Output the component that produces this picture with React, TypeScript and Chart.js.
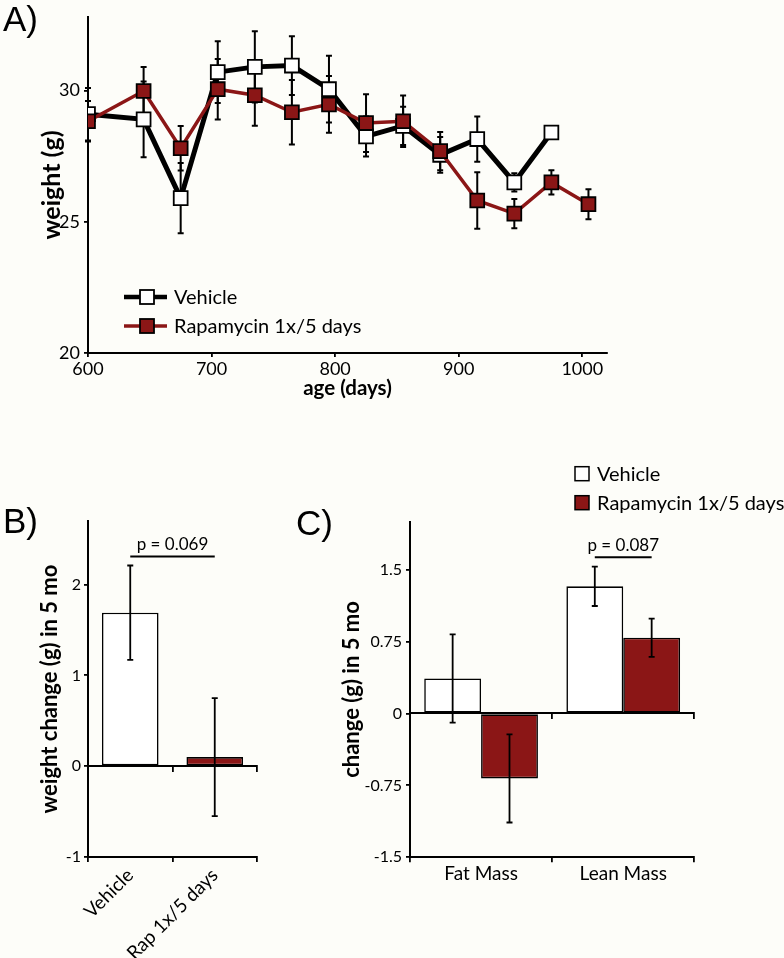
import React, { useEffect, useRef } from 'react';
import { Chart, registerables } from 'chart.js';

Chart.register(...registerables);

const FONT = 'Lato, "Open Sans", sans-serif';
const LETTER_FONT = '"Liberation Sans", Arial, sans-serif';
const RED = '#8B1616';
const BG = '#FDFDF9';

// ---------- Panel A: body weight over age ----------
const AGE_VEHICLE = [600, 645, 675, 705, 735, 765, 795, 825, 855, 885, 915, 945, 975];
const WEIGHT_VEHICLE = [29.1, 28.9, 25.9, 30.7, 30.9, 30.95, 30.05, 28.25, 28.65, 27.55, 28.15, 26.5, 28.4];
const ERR_VEHICLE = [1.0, 1.44, 1.34, 1.18, 1.36, 1.12, 1.27, 0.76, 0.73, 0.68, 0.86, 0.35, 0];
const AGE_RAPA = [600, 645, 675, 705, 735, 765, 795, 825, 855, 885, 915, 945, 975, 1005];
const WEIGHT_RAPA = [28.83, 29.98, 27.8, 30.05, 29.82, 29.17, 29.47, 28.76, 28.83, 27.69, 25.81, 25.31, 26.5, 25.67];
const ERR_RAPA = [0.77, 0.92, 0.85, 1.15, 1.16, 1.23, 1.08, 1.1, 0.98, 0.73, 1.08, 0.56, 0.46, 0.57];
const A_X_TICKS = [600, 700, 800, 900, 1000];
const A_Y_TICKS = [20, 25, 30];

// ---------- Panel B: weight change ----------
const B_GROUPS = ['Vehicle', 'Rap 1x/5 days'];
const B_CHANGE = [1.69, 0.1];
const B_ERR = [0.52, 0.65];
const B_Y_TICKS = [-1, 0, 1, 2];
const B_P_TEXT = 'p = 0.069';
const B_P_LEVEL = 2.31;

// ---------- Panel C: body composition change ----------
const C_CATEGORIES = ['Fat Mass', 'Lean Mass'];
const C_VEHICLE = [0.365, 1.326];
const C_VEHICLE_ERR = [0.46, 0.205];
const C_RAPA = [-0.677, 0.79];
const C_RAPA_ERR = [0.46, 0.2];
const C_Y_TICKS = [-1.5, -0.75, 0, 0.75, 1.5];
const C_P_TEXT = 'p = 0.087';
const C_P_LEVEL = 1.63;

const SERIES_NAMES = ['Vehicle', 'Rapamycin 1x/5 days'];

function errorBarsPlugin(layer: 'below' | 'above', cap: number, width: number) {
  const draw = (chart: any) => {
    const ctx = chart.ctx;
    ctx.save();
    ctx.strokeStyle = '#000';
    ctx.lineWidth = width;
    chart.data.datasets.forEach((ds: any, i: number) => {
      const errs = ds.errors;
      if (!errs) return;
      const meta = chart.getDatasetMeta(i);
      const yScale = chart.scales[meta.yAxisID];
      meta.data.forEach((el: any, j: number) => {
        const e = errs[j];
        if (!e) return;
        const raw = ds.data[j];
        const v = typeof raw === 'number' ? raw : raw.y;
        const x = el.x;
        const yt = yScale.getPixelForValue(v + e);
        const yb = yScale.getPixelForValue(v - e);
        ctx.beginPath();
        ctx.moveTo(x, yt);
        ctx.lineTo(x, yb);
        ctx.moveTo(x - cap, yt);
        ctx.lineTo(x + cap, yt);
        ctx.moveTo(x - cap, yb);
        ctx.lineTo(x + cap, yb);
        ctx.stroke();
      });
    });
    ctx.restore();
  };
  return {
    id: 'errorBars',
    beforeDatasetsDraw(chart: any) { if (layer === 'below') draw(chart); },
    afterDatasetsDraw(chart: any) { if (layer === 'above') draw(chart); },
  };
}

function panelLetterPlugin(letter: string, x: number, y: number) {
  return {
    id: 'panelLetter',
    afterDraw(chart: any) {
      const ctx = chart.ctx;
      ctx.save();
      ctx.fillStyle = '#000';
      ctx.font = `35px ${LETTER_FONT}`;
      ctx.textAlign = 'left';
      ctx.textBaseline = 'alphabetic';
      ctx.fillText(letter, x, y);
      ctx.restore();
    },
  };
}

function pValuePlugin(text: string, level: number, a: [number, number], b: [number, number]) {
  return {
    id: 'pValue',
    afterDatasetsDraw(chart: any) {
      const ctx = chart.ctx;
      const ya = chart.scales.y.getPixelForValue(level);
      const x1 = chart.getDatasetMeta(a[0]).data[a[1]].x;
      const x2 = chart.getDatasetMeta(b[0]).data[b[1]].x;
      ctx.save();
      ctx.strokeStyle = '#000';
      ctx.lineWidth = 2;
      ctx.beginPath();
      ctx.moveTo(x1, ya);
      ctx.lineTo(x2, ya);
      ctx.stroke();
      ctx.fillStyle = '#000';
      ctx.font = `17px ${FONT}`;
      ctx.textAlign = 'center';
      ctx.textBaseline = 'middle';
      ctx.fillText(text, (x1 + x2) / 2, ya - 12);
      ctx.restore();
    },
  };
}

const legendAPlugin = {
  id: 'legendA',
  afterDraw(chart: any) {
    const ctx = chart.ctx;
    const { left, top } = chart.chartArea;
    const entries = [
      { name: SERIES_NAMES[0], line: '#000', lw: 4.5, fill: '#fff', y: top + 280 },
      { name: SERIES_NAMES[1], line: RED, lw: 3.5, fill: RED, y: top + 309 },
    ];
    ctx.save();
    entries.forEach((e) => {
      ctx.strokeStyle = e.line;
      ctx.lineWidth = e.lw;
      ctx.beginPath();
      ctx.moveTo(left + 36, e.y);
      ctx.lineTo(left + 79, e.y);
      ctx.stroke();
      ctx.fillStyle = e.fill;
      ctx.fillRect(left + 52, e.y - 7, 14, 14);
      ctx.strokeStyle = '#000';
      ctx.lineWidth = 1.8;
      ctx.strokeRect(left + 52, e.y - 7, 14, 14);
      ctx.fillStyle = '#000';
      ctx.font = `20px ${FONT}`;
      ctx.textAlign = 'left';
      ctx.textBaseline = 'middle';
      ctx.fillText(e.name, left + 86, e.y + 1);
    });
    ctx.restore();
  },
};

const legendCPlugin = {
  id: 'legendC',
  afterDraw(chart: any) {
    const ctx = chart.ctx;
    const { left, top } = chart.chartArea;
    const entries = [
      { name: SERIES_NAMES[0], fill: '#fff', y: top - 48 },
      { name: SERIES_NAMES[1], fill: RED, y: top - 19 },
    ];
    ctx.save();
    entries.forEach((e) => {
      ctx.fillStyle = e.fill;
      ctx.fillRect(left + 165, e.y - 7, 14, 14);
      ctx.strokeStyle = '#000';
      ctx.lineWidth = 1.5;
      ctx.strokeRect(left + 165, e.y - 7, 14, 14);
      ctx.fillStyle = '#000';
      ctx.font = `20px ${FONT}`;
      ctx.textAlign = 'left';
      ctx.textBaseline = 'middle';
      ctx.fillText(e.name, left + 187, e.y + 1);
    });
    ctx.restore();
  },
};

const axisGrid = { display: true, drawOnChartArea: false, drawTicks: true, tickLength: 4, color: '#000', lineWidth: 1.8 };
const axisBorder = { display: true, color: '#000', width: 2 };
const tickFont = { family: FONT, size: 16 };
const tickFontA = { family: FONT, size: 18 };

function configA(): any {
  return {
    type: 'line',
    data: {
      datasets: [
        {
          label: SERIES_NAMES[1],
          data: AGE_RAPA.map((x, i) => ({ x, y: WEIGHT_RAPA[i] })),
          errors: ERR_RAPA,
          borderColor: RED,
          borderWidth: 3.5,
          pointStyle: 'rect',
          pointRadius: 9.8,
          pointBorderColor: '#000',
          pointBorderWidth: 1.8,
          pointBackgroundColor: RED,
          order: 0,
        },
        {
          label: SERIES_NAMES[0],
          data: AGE_VEHICLE.map((x, i) => ({ x, y: WEIGHT_VEHICLE[i] })),
          errors: ERR_VEHICLE,
          borderColor: '#000',
          borderWidth: 5,
          pointStyle: 'rect',
          pointRadius: 9.8,
          pointBorderColor: '#000',
          pointBorderWidth: 1.8,
          pointBackgroundColor: '#fff',
          order: 1,
        },
      ],
    },
    options: {
      responsive: false,
      animation: false,
      events: [],
      layout: { padding: { left: 0, top: 17, right: 177, bottom: 17 } },
      plugins: { legend: { display: false }, tooltip: { enabled: false } },
      scales: {
        x: {
          type: 'linear',
          min: 600,
          max: 1020,
          afterBuildTicks: (s: any) => { s.ticks = A_X_TICKS.map((v) => ({ value: v })); },
          afterFit: (s: any) => { s.height = 50; },
          grid: axisGrid,
          border: axisBorder,
          ticks: { color: '#000', font: tickFontA, padding: 1, maxRotation: 0, callback: (v: any) => String(v) },
          title: { display: true, text: 'age (days)', color: '#000', font: { family: FONT, size: 20.5, weight: 'bold' }, padding: { top: 4, bottom: 2 } },
        },
        y: {
          type: 'linear',
          min: 20,
          max: 32.8,
          afterBuildTicks: (s: any) => { s.ticks = A_Y_TICKS.map((v) => ({ value: v })); },
          afterFit: (s: any) => { s.width = 88; },
          grid: axisGrid,
          border: axisBorder,
          ticks: { color: '#000', font: tickFontA, padding: 4, callback: (v: any) => String(v) },
          title: { display: true, text: 'weight (g)', color: '#000', font: { family: FONT, size: 25, weight: 'bold' }, padding: { top: 37, bottom: 0 } },
        },
      },
    },
    plugins: [errorBarsPlugin('below', 3, 2), legendAPlugin, panelLetterPlugin('A)', 3, 31)],
  };
}

function configB(): any {
  return {
    type: 'bar',
    data: {
      labels: B_GROUPS,
      datasets: [
        {
          data: B_CHANGE,
          errors: B_ERR,
          backgroundColor: ['#fff', RED],
          borderColor: '#000',
          borderWidth: 1.6,
          borderSkipped: false,
          barPercentage: 0.67,
          categoryPercentage: 1,
        },
      ],
    },
    options: {
      responsive: false,
      animation: false,
      events: [],
      layout: { padding: { left: 0, top: 81, right: 33, bottom: 0 } },
      plugins: { legend: { display: false }, tooltip: { enabled: false } },
      scales: {
        x: {
          type: 'category',
          offset: true,
          afterFit: (s: any) => { s.height = 101; },
          grid: { ...axisGrid, offset: true, tickLength: 5 },
          border: axisBorder,
          ticks: { color: '#000', font: { family: FONT, size: 19 }, padding: 2, minRotation: 45, maxRotation: 45 },
        },
        x0: {
          type: 'category',
          axis: 'x',
          labels: B_GROUPS,
          position: { y: 0 },
          offset: true,
          grid: { ...axisGrid, offset: true, tickLength: 5 },
          border: axisBorder,
          ticks: { display: false },
        },
        y: {
          type: 'linear',
          min: -1,
          max: 2.7,
          afterBuildTicks: (s: any) => { s.ticks = B_Y_TICKS.map((v) => ({ value: v })); },
          afterFit: (s: any) => { s.width = 88; },
          grid: axisGrid,
          border: axisBorder,
          ticks: { color: '#000', font: tickFont, padding: 3, callback: (v: any) => String(v) },
          title: { display: true, text: 'weight change (g) in 5 mo', color: '#000', font: { family: FONT, size: 22, weight: 'bold' }, padding: { top: 37, bottom: 0 } },
        },
      },
    },
    plugins: [errorBarsPlugin('above', 3, 1.8), pValuePlugin(B_P_TEXT, B_P_LEVEL, [0, 0], [0, 1]), panelLetterPlugin('B)', 3, 93)],
  };
}

function configC(): any {
  return {
    type: 'bar',
    data: {
      labels: C_CATEGORIES,
      datasets: [
        {
          label: SERIES_NAMES[0],
          data: C_VEHICLE,
          errors: C_VEHICLE_ERR,
          backgroundColor: '#fff',
          borderColor: '#000',
          borderWidth: 1.6,
          borderSkipped: false,
          barPercentage: 1,
          categoryPercentage: 0.8,
        },
        {
          label: SERIES_NAMES[1],
          data: C_RAPA,
          errors: C_RAPA_ERR,
          backgroundColor: RED,
          borderColor: '#000',
          borderWidth: 1.6,
          borderSkipped: false,
          barPercentage: 1,
          categoryPercentage: 0.8,
        },
      ],
    },
    options: {
      responsive: false,
      animation: false,
      events: [],
      layout: { padding: { left: 0, top: 81.7, right: 89.7, bottom: 0 } },
      plugins: { legend: { display: false }, tooltip: { enabled: false } },
      scales: {
        x: {
          type: 'category',
          offset: true,
          afterFit: (s: any) => { s.height = 100.7; },
          grid: { ...axisGrid, offset: true, tickLength: 5 },
          border: axisBorder,
          ticks: { color: '#000', font: { family: FONT, size: 19 }, padding: 0, maxRotation: 0 },
        },
        x0: {
          type: 'category',
          axis: 'x',
          labels: C_CATEGORIES,
          position: { y: 0 },
          offset: true,
          grid: { ...axisGrid, offset: true, tickLength: 5 },
          border: axisBorder,
          ticks: { display: false },
        },
        y: {
          type: 'linear',
          min: -1.5,
          max: 2.0,
          afterBuildTicks: (s: any) => { s.ticks = C_Y_TICKS.map((v) => ({ value: v })); },
          afterFit: (s: any) => { s.width = 120; },
          grid: axisGrid,
          border: axisBorder,
          ticks: { color: '#000', font: tickFont, padding: 4, callback: (v: any) => String(v) },
          title: { display: true, text: 'change (g) in 5 mo', color: '#000', font: { family: FONT, size: 22, weight: 'bold' }, padding: { top: 49, bottom: 0 } },
        },
      },
    },
    plugins: [errorBarsPlugin('above', 3, 1.8), pValuePlugin(C_P_TEXT, C_P_LEVEL, [0, 1], [1, 1]), legendCPlugin, panelLetterPlugin('C)', 6, 95)],
  };
}

export default function App() {
  const refA = useRef<HTMLCanvasElement>(null);
  const refB = useRef<HTMLCanvasElement>(null);
  const refC = useRef<HTMLCanvasElement>(null);

  useEffect(() => {
    const a = new Chart(refA.current as HTMLCanvasElement, configA());
    const b = new Chart(refB.current as HTMLCanvasElement, configB());
    const c = new Chart(refC.current as HTMLCanvasElement, configC());
    return () => {
      a.destroy();
      b.destroy();
      c.destroy();
    };
  }, []);

  return (
    <div style={{ position: 'absolute', left: 0, top: 0, width: 784, height: 958, background: BG, overflow: 'hidden' }}>
      <canvas ref={refA} width={784} height={420} style={{ position: 'absolute', left: 0, top: 0, width: 784, height: 420 }} />
      <canvas ref={refB} width={290} height={518} style={{ position: 'absolute', left: 0, top: 440, width: 290, height: 518 }} />
      <canvas ref={refC} width={494} height={518} style={{ position: 'absolute', left: 290, top: 440, width: 494, height: 518 }} />
    </div>
  );
}
